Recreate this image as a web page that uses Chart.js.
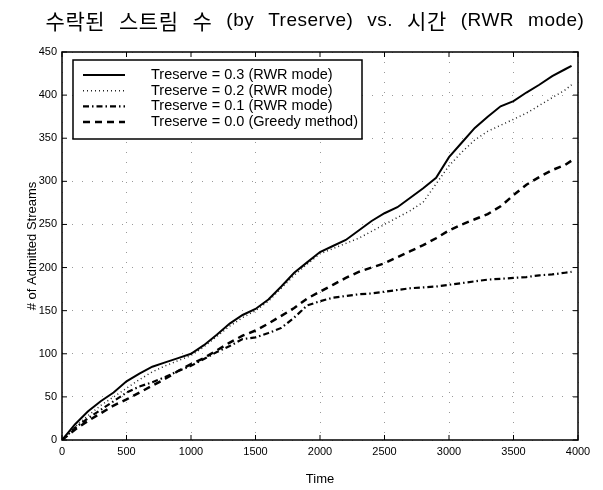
<!DOCTYPE html>
<html>
<head>
<meta charset="utf-8">
<script src="https://cdn.jsdelivr.net/npm/chart.js@4"></script>
<style>
  html, body { margin: 0; padding: 0; background: #fff; }
</style>
</head>
<body>
<canvas id="chart" width="603" height="490"></canvas>
<script>
// Data
const times = [0, 100, 200, 300, 400, 500, 600, 700, 800, 900, 1000, 1100, 1200, 1300, 1400,
  1500, 1600, 1700, 1800, 1900, 2000, 2100, 2200, 2300, 2400, 2500, 2600, 2700, 2800, 2900,
  3000, 3100, 3200, 3300, 3400, 3500, 3600, 3700, 3800, 3900, 3950];
const reserve03 = [0, 18, 33, 45, 55, 68, 77, 85, 90, 95, 100, 110, 122, 135, 145,
  152, 163, 178, 194, 206, 218, 225, 232, 243, 254, 263, 270, 281, 292, 304,
  328, 345, 362, 375, 387, 393, 403, 412, 422, 430, 434];
const reserve02 = [0, 15, 28, 40, 50, 60, 70, 79, 86, 92, 98, 108, 120, 132, 142,
  150, 161, 176, 191, 204, 216, 222, 228, 234, 242, 250, 258, 266, 276, 297,
  318, 334, 348, 358, 365, 372, 379, 388, 397, 406, 412];
const reserve01 = [0, 14, 25, 35, 45, 55, 62, 67, 73, 80, 86, 94, 102, 109, 117,
  119, 124, 130, 142, 156, 161, 165, 167, 169, 170, 172, 174, 176, 177, 178,
  180, 182, 184, 186, 187, 188, 189, 191, 192, 194, 195];
const reserve00 = [0, 12, 22, 31, 40, 47, 55, 63, 71, 80, 88, 95, 104, 113, 121,
  127, 135, 144, 153, 164, 172, 180, 188, 195, 200, 205, 212, 219, 226, 234,
  243, 250, 256, 262, 271, 284, 296, 305, 313, 319, 324];
const seriesLabels = [
  "Treserve = 0.3 (RWR mode)",
  "Treserve = 0.2 (RWR mode)",
  "Treserve = 0.1 (RWR mode)",
  "Treserve = 0.0 (Greedy method)",
];
const xTicks = [0, 500, 1000, 1500, 2000, 2500, 3000, 3500, 4000];
const yTicks = [0, 50, 100, 150, 200, 250, 300, 350, 400, 450];
const chartTitle = "수락된 스트림 수 (by Treserve) vs. 시간 (RWR mode)";

const LATIN = "'Liberation Sans', Arial, sans-serif";
const HANGUL_FONT = "21px 'Noto Sans CJK KR', sans-serif";
const LATIN_FONT = "19px 'Liberation Sans', Arial, sans-serif";
const TITLE_SPACE = 14;

function toPoints(values) {
  return times.map((t, i) => ({ x: t, y: values[i] }));
}

// ===================================
// TITLE (Hangul and Latin runs set in their own fonts, wide word gaps)
// ===================================
function splitRuns(text) {
  const runs = [];
  for (const ch of text) {
    const kind = ch === " " ? "space" : /[\uac00-\ud7a3]/.test(ch) ? "hangul" : "latin";
    const last = runs[runs.length - 1];
    if (last && last.kind === kind && kind !== "space") last.text += ch;
    else runs.push({ text: ch, kind });
  }
  return runs;
}

const spacedTitlePlugin = {
  id: "spacedTitle",
  afterDraw(chart) {
    const { ctx } = chart;
    const runs = splitRuns(chartTitle);
    ctx.save();
    ctx.letterSpacing = "0.5px";
    ctx.fillStyle = "#000";
    ctx.textBaseline = "middle";
    ctx.textAlign = "left";
    let total = 0;
    runs.forEach((r) => {
      if (r.kind === "space") {
        r.width = TITLE_SPACE;
      } else {
        ctx.font = r.kind === "hangul" ? HANGUL_FONT : LATIN_FONT;
        r.width = ctx.measureText(r.text).width;
      }
      total += r.width;
    });
    let x = 315 - total / 2;
    runs.forEach((r) => {
      if (r.kind !== "space") {
        ctx.font = r.kind === "hangul" ? HANGUL_FONT : LATIN_FONT;
        ctx.fillText(r.text, x, 21);
      }
      x += r.width;
    });
    ctx.restore();
  },
};

// ===================================
// PLOT FRAME + INWARD TICKS
// ===================================
const framePlugin = {
  id: "frame",
  afterDatasetsDraw(chart) {
    const { ctx, chartArea: a, scales } = chart;
    ctx.save();
    ctx.strokeStyle = "#000";
    ctx.lineWidth = 1.5;
    ctx.strokeRect(a.left, a.top, a.right - a.left, a.bottom - a.top);
    ctx.lineWidth = 1;
    ctx.beginPath();
    xTicks.forEach((v) => {
      const px = scales.x.getPixelForValue(v);
      ctx.moveTo(px, a.bottom);
      ctx.lineTo(px, a.bottom - 5);
      ctx.moveTo(px, a.top);
      ctx.lineTo(px, a.top + 5);
    });
    yTicks.forEach((v) => {
      const py = scales.y.getPixelForValue(v);
      ctx.moveTo(a.left, py);
      ctx.lineTo(a.left + 5, py);
      ctx.moveTo(a.right, py);
      ctx.lineTo(a.right - 5, py);
    });
    ctx.stroke();
    ctx.restore();
  },
};

// ===================================
// BOXED LEGEND INSIDE THE PLOT
// ===================================
const boxLegendPlugin = {
  id: "boxLegend",
  afterDraw(chart) {
    const { ctx, chartArea: a } = chart;
    const left = a.left + 11;
    const top = a.top + 8;
    const w = 289;
    const h = 79;
    ctx.save();
    ctx.fillStyle = "#fff";
    ctx.fillRect(left, top, w, h);
    ctx.strokeStyle = "#000";
    ctx.lineWidth = 1.5;
    ctx.strokeRect(left, top, w, h);
    ctx.font = "14.5px " + LATIN;
    ctx.textBaseline = "middle";
    ctx.fillStyle = "#000";
    chart.data.datasets.forEach((ds, i) => {
      const y = top + 15 + i * 15.7;
      ctx.beginPath();
      ctx.strokeStyle = ds.borderColor;
      ctx.lineWidth = ds.borderWidth;
      ctx.setLineDash(ds.borderDash || []);
      ctx.moveTo(left + 10, y);
      ctx.lineTo(left + 52, y);
      ctx.stroke();
      ctx.setLineDash([]);
      ctx.fillText(ds.label, left + 78, y);
    });
    ctx.restore();
  },
};

new Chart(document.getElementById("chart"), {
  type: "line",
  data: {
    datasets: [
      { label: seriesLabels[0], data: toPoints(reserve03), borderColor: "#000", borderWidth: 2, borderDash: [] },
      { label: seriesLabels[1], data: toPoints(reserve02), borderColor: "#222", borderWidth: 1.5, borderDash: [1, 3] },
      { label: seriesLabels[2], data: toPoints(reserve01), borderColor: "#000", borderWidth: 2.2, borderDash: [6, 3, 1.5, 3] },
      { label: seriesLabels[3], data: toPoints(reserve00), borderColor: "#000", borderWidth: 2.5, borderDash: [7, 5] },
    ],
  },
  options: {
    responsive: false,
    animation: false,
    elements: { point: { radius: 0 }, line: { tension: 0 } },
    layout: { padding: { top: 52, right: 25, bottom: 3 } },
    plugins: {
      legend: { display: false },
      tooltip: { enabled: false },
      title: { display: false },
    },
    scales: {
      x: {
        type: "linear",
        min: 0,
        max: 4000,
        afterFit: (s) => { s.height = 47; },
        afterBuildTicks: (s) => { s.ticks = xTicks.map((v) => ({ value: v })); },
        grid: { color: "rgba(0,0,0,0.4)", drawTicks: false },
        border: { display: false, dash: [1, 9] },
        ticks: { color: "#000", padding: 5, font: { family: LATIN, size: 11 }, callback: (v) => String(v) },
        title: { display: true, text: "Time", color: "#000", font: { family: LATIN, size: 13 }, padding: { top: 0, bottom: 0 } },
      },
      y: {
        min: 0,
        max: 450,
        afterFit: (s) => { s.width = 62; },
        afterBuildTicks: (s) => { s.ticks = yTicks.map((v) => ({ value: v })); },
        grid: { color: "rgba(0,0,0,0.4)", drawTicks: false },
        border: { display: false, dash: [1, 9] },
        ticks: { color: "#000", padding: 5, font: { family: LATIN, size: 11 }, callback: (v) => String(v) },
        title: { display: true, text: "# of Admitted Streams", color: "#000", font: { family: LATIN, size: 13 }, padding: { top: 25, bottom: 0 } },
      },
    },
  },
  plugins: [framePlugin, boxLegendPlugin, spacedTitlePlugin],
});
</script>
</body>
</html>
